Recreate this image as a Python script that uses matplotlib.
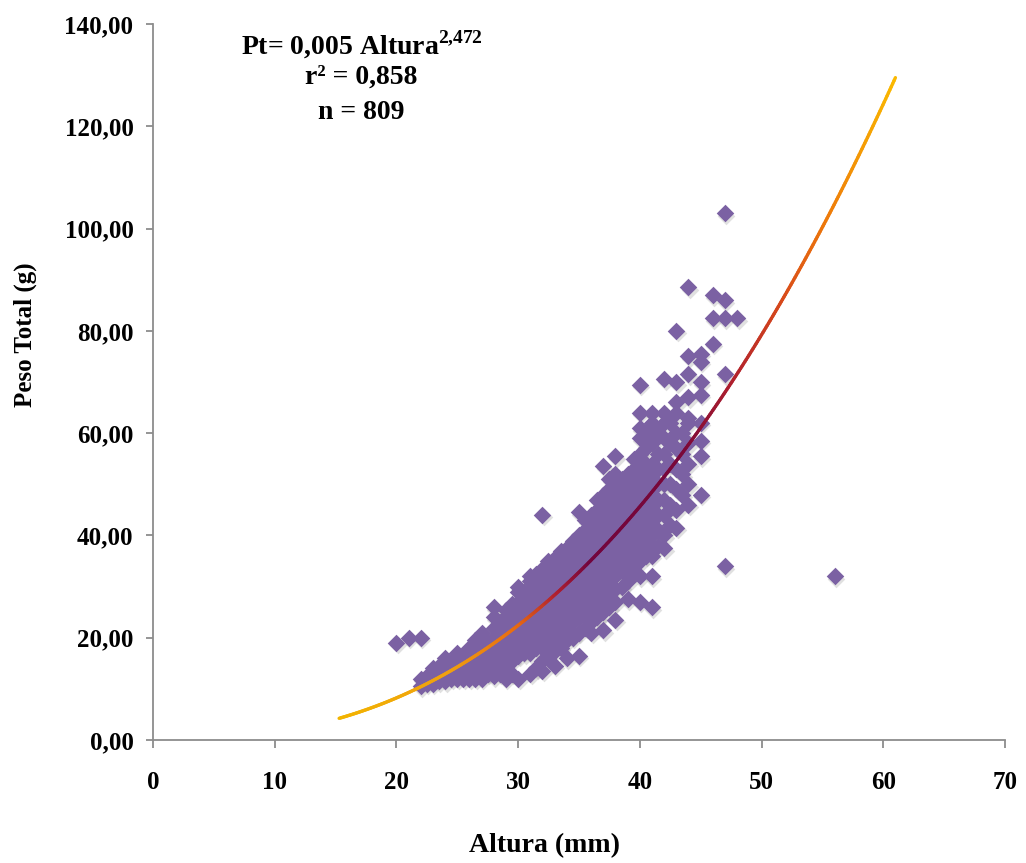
"""
Relação peso-altura: dispersão dos indivíduos e curva potencial ajustada
"""

import numpy as np
import matplotlib.pyplot as plt
from matplotlib.collections import LineCollection
from matplotlib.colors import LinearSegmentedColormap
from matplotlib.ticker import FuncFormatter
import matplotlib.transforms as mtransforms

# ============================================================
# DADOS (altura em mm -> pesos totais observados em g)
# ============================================================
altura_pesos = {
    20: [19],
    21: [20],
    22: [10.5, 12, 20],
    23: [11, 12.5, 14],
    24: [11.5, 13, 14.5, 16],
    25: [12, 13.5, 15, 17],
    26: [12, 13.5, 15, 16.5, 18],
    27: [12, 13.5, 15, 16.5, 18, 19.5, 21],
    28: [12.5, 14, 15.5, 17, 18.5, 20, 22, 24, 26],
    29: [12, 13.5, 15, 17, 19, 20.5, 22, 24, 25.5],
    30: [12, 16.5, 18, 19.5, 21, 22.5, 24, 25.5, 27, 29, 30],
    31: [13, 17, 18.5, 20, 21.5, 23, 25, 27, 29, 31, 32],
    32: [13.5, 15.5, 18, 20, 22, 24, 26, 28, 30, 32, 33.5, 44],
    33: [14.5, 17.5, 20, 22, 24, 26, 28, 30, 32, 34, 35.5],
    34: [16, 19.5, 22, 24, 26, 28, 30, 32, 34, 36, 37.5],
    35: [16.5, 21, 24, 26, 28, 30, 32, 34, 36, 38, 40, 44.5],
    36: [21, 23, 26, 28, 30, 32, 34, 36, 38, 40, 42, 44],
    37: [21.5, 25, 28, 30, 32, 34, 36, 38, 40, 42, 44, 46, 48, 53.5],
    38: [23.5, 27, 29.5, 32, 34, 36, 38, 40, 42, 44, 46, 48, 50, 52, 55.5],
    39: [27.5, 31, 34, 36, 38, 40, 42, 44, 46, 48, 50, 52],
    40: [27, 32, 35, 37, 39, 41, 43, 45, 47, 49, 51, 53, 56, 59, 61, 64, 69.5],
    41: [26, 32, 36, 38, 40, 42, 44, 46, 48, 50, 52, 54, 58, 62, 64],
    42: [37.5, 40, 44, 47, 50, 53, 56, 59, 62, 64, 70.5],
    43: [41.5, 45, 49, 53, 57, 60, 64, 66, 70, 80],
    44: [46, 50, 54, 58, 62, 63, 67, 71.5, 75, 88.5],
    45: [48, 55.5, 58.5, 62, 67.5, 70, 74, 75.5],
    46: [77.5, 82.5, 87],
    47: [34, 71.5, 82.5, 86, 103],
    48: [82.5],
    56: [32],
    # meias medidas
    22.5: [11, 12.5],
    23.5: [11.5, 13, 14.5],
    24.5: [12, 13.5, 15],
    25.5: [12, 13.5, 15, 16.5],
    26.5: [12, 13.5, 15, 16.5, 18, 19.5],
    27.5: [13, 15, 17, 19],
    28.5: [13, 15, 17, 19, 21, 23],
    29.5: [13, 15.5, 18, 20, 22, 24, 26.5],
    30.5: [17, 19, 21, 23, 25, 27, 29],
    31.5: [14, 18, 20, 22, 24, 26, 28, 30, 32.5],
    32.5: [16, 19, 21, 23, 25, 27, 29, 31, 33, 35],
    33.5: [18, 21, 23, 25, 27, 29, 31, 33, 35, 37],
    34.5: [20, 23, 25, 27, 29, 31, 33, 35, 37, 39],
    35.5: [22, 25, 27, 29, 31, 33, 35, 37, 39, 41, 43],
    36.5: [24, 27, 29, 31, 33, 35, 37, 39, 41, 43, 45, 47],
    37.5: [26, 29, 31, 33, 35, 37, 39, 41, 43, 45, 47, 49, 51],
    38.5: [30, 33, 35, 37, 39, 41, 43, 45, 47, 49, 51],
    39.5: [33, 35, 37, 39, 41, 43, 45, 47, 49, 51, 53, 55],
    40.5: [36, 38, 40, 42, 44, 46, 48, 50, 52, 54, 57, 60],
    41.5: [38, 41, 44, 47, 50, 53, 56, 60],
    42.5: [42, 46, 50, 54, 58, 62],
    43.5: [48, 52, 56, 60],
}

altura = np.array([a for a, ps in altura_pesos.items() for _ in ps], dtype=float)
peso = np.array([p for ps in altura_pesos.values() for p in ps], dtype=float)

# Modelo potencial Pt = a * Altura^b
coef_a = 0.005
coef_b = 2.472
r2 = "0,858"
n_total = 809
altura_min, altura_max = 15.3, 61.0

# ============================================================
# GRÁFICO
# ============================================================
plt.rcParams['font.family'] = ['Liberation Serif', 'DejaVu Serif']
plt.rcParams['mathtext.fontset'] = 'custom'
plt.rcParams['mathtext.rm'] = 'Liberation Serif:bold'
plt.rcParams['mathtext.bf'] = 'Liberation Serif:bold'

fig = plt.figure(figsize=(10.26, 8.63), dpi=100)
ax = fig.add_axes([0.149, 0.1425, 0.8305, 0.8297])

# sombra ligeira por baixo dos losangos
sombra = mtransforms.offset_copy(ax.transData, fig=fig, x=1.5, y=-2.5, units='dots')
ax.scatter(altura, peso, marker='D', s=80, color='#9a9a9a', alpha=0.3,
           linewidths=0, transform=sombra, zorder=2)
ax.scatter(altura, peso, marker='D', s=80, color='#7b61a3', linewidths=0, zorder=3)

# curva ajustada com gradiente de cor
xc = np.linspace(altura_min, altura_max, 400)
yc = coef_a * xc ** coef_b
pts = np.column_stack([xc, yc]).reshape(-1, 1, 2)
segs = np.concatenate([pts[:-1], pts[1:]], axis=1)
cmap = LinearSegmentedColormap.from_list('curva', [
    (0.00, '#f2b400'),
    (0.20, '#f0a010'),
    (0.32, '#e86a10'),
    (0.39, '#b02030'),
    (0.45, '#72053e'),
    (0.62, '#7a0838'),
    (0.71, '#b0202e'),
    (0.80, '#d84a1a'),
    (0.88, '#ee7a0a'),
    (1.00, '#fab800'),
])
lc = LineCollection(segs, cmap=cmap, linewidth=2.4, capstyle='round', zorder=4)
lc.set_array((xc[:-1] - altura_min) / (altura_max - altura_min))
ax.add_collection(lc)

# eixos
ax.set_xlim(0, 70)
ax.set_ylim(0, 140)
ax.set_xticks(np.arange(0, 71, 10))
ax.set_yticks(np.arange(0, 141, 20))
ax.yaxis.set_major_formatter(FuncFormatter(lambda v, _: f"{v:.2f}".replace('.', ',')))

for lado in ['top', 'right']:
    ax.spines[lado].set_visible(False)
for lado in ['left', 'bottom']:
    ax.spines[lado].set_color('#8c8c8c')
    ax.spines[lado].set_linewidth(1.3)

ax.tick_params(axis='x', direction='out', length=6, width=1.3, color='#8c8c8c',
               pad=16, labelsize=18)
ax.tick_params(axis='y', direction='out', length=5, width=1.3, color='#8c8c8c',
               pad=9, labelsize=18)
for lbl in ax.get_xticklabels() + ax.get_yticklabels():
    lbl.set_fontweight('bold')

ax.set_xlabel('Altura (mm)', fontsize=20, fontweight='bold')
ax.set_ylabel('Peso Total (g)', fontsize=18, fontweight='bold')
ax.xaxis.set_label_coords(0.46, -0.130)
ax.yaxis.set_label_coords(-0.136, 0.566)

# equação e estatísticas
ax.text(0.245, 0.971, r'Pt= 0,005 Altura$^{\mathbf{2{,}472}}$', transform=ax.transAxes,
        ha='center', va='center', fontsize=20, fontweight='bold')
ax.text(0.245, 0.926, f'r² = {r2}', transform=ax.transAxes,
        ha='center', va='center', fontsize=20, fontweight='bold')
ax.text(0.245, 0.876, f'n = {n_total}', transform=ax.transAxes,
        ha='center', va='center', fontsize=20, fontweight='bold')

fig.savefig('out.png', dpi=100)
